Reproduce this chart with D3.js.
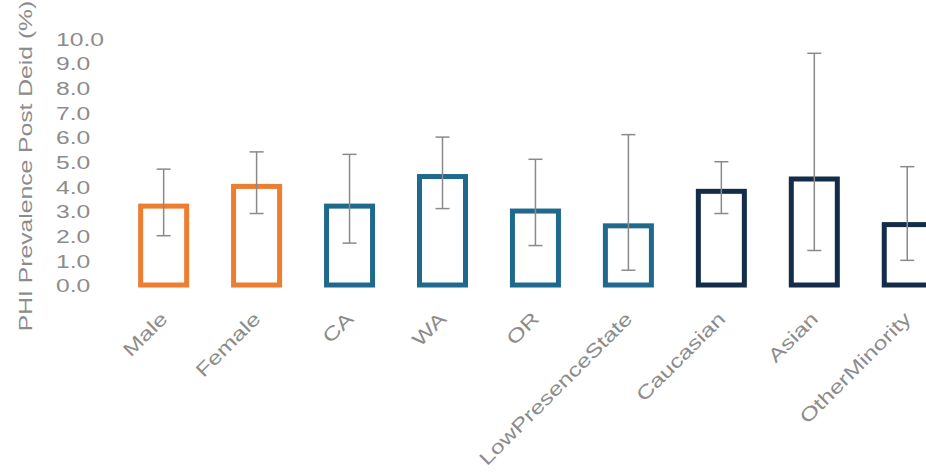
<!DOCTYPE html>
<html>
<head>
<meta charset="utf-8">
<script src="https://cdn.jsdelivr.net/npm/d3@7"></script>
<style>
  body { margin: 0; background: #fff; }
  text { font-family: "Liberation Sans", Arial, sans-serif; }
</style>
</head>
<body>
<div id="chart"></div>
<script>
// Data
const categories = ["Male", "Female", "CA", "WA", "OR", "LowPresenceState", "Caucasian", "Asian", "OtherMinority"];
const groups = ["sex", "sex", "state", "state", "state", "state", "race", "race", "race"];
const values = [3.2, 4.0, 3.2, 4.4, 3.0, 2.4, 3.8, 4.3, 2.45];
const lower = [2.0, 2.9, 1.7, 3.1, 1.6, 0.6, 2.9, 1.4, 1.0];
const upper = [4.7, 5.4, 5.3, 6.0, 5.1, 6.1, 5.0, 9.4, 4.8];
const yTicks = [0, 1, 2, 3, 4, 5, 6, 7, 8, 9, 10];

const width = 926, height = 472;
const stretch = 1.3; // the text in the source is drawn wide

const svg = d3.select("#chart")
    .append("svg")
    .attr("width", width)
    .attr("height", height);

// Scales
const xScale = d3.scaleBand()
    .domain(categories)
    .range([117.4, 953.5])
    .paddingInner(0.505)
    .paddingOuter(0.25);

const yScale = d3.scaleLinear()
    .domain([0, 10])
    .range([285, 38.5]);

const colorScale = d3.scaleOrdinal()
    .domain(["sex", "state", "race"])
    .range(["#ED7D31", "#1F6A8C", "#132C4A"]);

// Y axis (labels only, left aligned)
svg.append("g")
    .call(d3.axisLeft(yScale).tickValues(yTicks).tickSize(0).tickFormat(d3.format(".1f")))
    .call(g => g.select(".domain").remove())
    .call(g => g.selectAll(".tick text")
        .attr("text-anchor", "start")
        .attr("x", 56 / stretch)
        .attr("dy", "0.36em")
        .attr("transform", `scale(${stretch},1)`)
        .attr("fill", "#8c8c8c")
        .style("font-size", "19px"));

// X axis (rotated labels)
svg.append("g")
    .attr("transform", `translate(0,${yScale(0)})`)
    .call(d3.axisBottom(xScale).tickSize(0))
    .call(g => g.select(".domain").remove())
    .call(g => g.selectAll(".tick text")
        .attr("text-anchor", "end")
        .attr("x", 0)
        .attr("y", 0)
        .attr("dy", 0)
        .attr("transform", `translate(5,35) rotate(-45) scale(${stretch},1)`)
        .attr("fill", "#8c8c8c")
        .style("font-size", "19px"));

// Y axis title
svg.append("text")
    .attr("transform", `translate(32,166) rotate(-90) scale(${stretch},1)`)
    .attr("text-anchor", "middle")
    .attr("fill", "#8c8c8c")
    .style("font-size", "19px")
    .text("PHI Prevalence Post Deid (%)");

// Hollow bars
svg.selectAll("rect.bar")
    .data(categories)
    .enter().append("rect")
    .attr("class", "bar")
    .attr("x", d => xScale(d))
    .attr("width", xScale.bandwidth())
    .attr("y", (d, i) => yScale(values[i]))
    .attr("height", (d, i) => yScale(0) - yScale(values[i]))
    .attr("fill", "none")
    .attr("stroke", (d, i) => colorScale(groups[i]))
    .attr("stroke-width", 5);

// Error bars
const err = svg.selectAll("g.err")
    .data(categories)
    .enter().append("g")
    .attr("class", "err")
    .attr("stroke", "#8a8a8a")
    .attr("stroke-width", 1.5);

err.append("line")
    .attr("x1", d => xScale(d) + xScale.bandwidth() / 2)
    .attr("x2", d => xScale(d) + xScale.bandwidth() / 2)
    .attr("y1", (d, i) => yScale(lower[i]))
    .attr("y2", (d, i) => yScale(upper[i]));

[lower, upper].forEach(arr => {
    err.append("line")
        .attr("x1", d => xScale(d) + xScale.bandwidth() / 2 - 7)
        .attr("x2", d => xScale(d) + xScale.bandwidth() / 2 + 7)
        .attr("y1", (d, i) => yScale(arr[i]))
        .attr("y2", (d, i) => yScale(arr[i]));
});
</script>
</body>
</html>
